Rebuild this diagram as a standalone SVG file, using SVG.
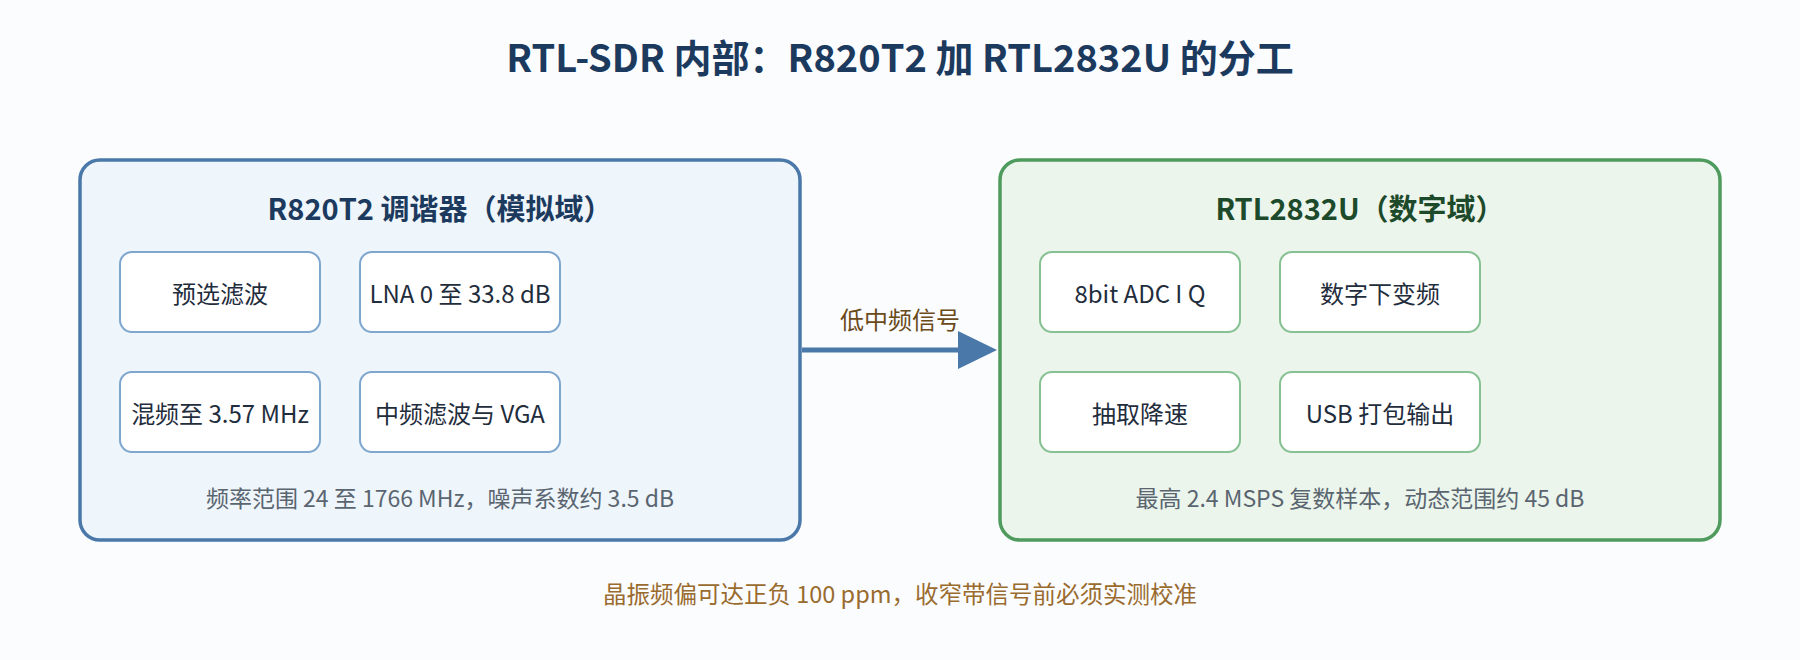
<svg xmlns="http://www.w3.org/2000/svg" width="1800" height="660" viewBox="0 0 1800 660">
<style>
text{font-family:"Noto Sans CJK SC","Noto Sans",sans-serif;text-anchor:middle;dominant-baseline:central}
.title{font-size:38px;font-weight:bold;fill:#1c3a5e}
.ht{font-size:29px;font-weight:bold}
.item{font-size:24px;fill:#1f2d3d}
.note{font-size:23px;fill:#5a6570}
.ib{fill:#fff;stroke-width:2}
</style>
<rect width="1800" height="660" fill="#fafcfe"/>
<text class="title" x="900" y="55">RTL-SDR 内部：R820T2 加 RTL2832U 的分工</text>
<g id="tuner">
<rect x="80" y="160" width="720" height="380" rx="20" fill="#eef5fb" stroke="#4a78a8" stroke-width="3.5"/>
<text class="ht" x="440" y="207" fill="#1c3a5e">R820T2 调谐器（模拟域）</text>
<g id="t1"><rect class="ib" x="120" y="252" width="200" height="80" rx="12" stroke="#7fa6cc"/><text class="item" x="220" y="292">预选滤波</text></g>
<g id="t2"><rect class="ib" x="360" y="252" width="200" height="80" rx="12" stroke="#7fa6cc"/><text class="item" x="460" y="292">LNA 0 至 33.8 dB</text></g>
<g id="t3"><rect class="ib" x="120" y="372" width="200" height="80" rx="12" stroke="#7fa6cc"/><text class="item" x="220" y="412">混频至 3.57 MHz</text></g>
<g id="t4"><rect class="ib" x="360" y="372" width="200" height="80" rx="12" stroke="#7fa6cc"/><text class="item" x="460" y="412">中频滤波与 VGA</text></g>
<text class="note" x="440" y="497">频率范围 24 至 1766 MHz，噪声系数约 3.5 dB</text>
</g>
<g id="demod">
<rect x="1000" y="160" width="720" height="380" rx="20" fill="#ebf5ec" stroke="#4f9a5d" stroke-width="3.5"/>
<text class="ht" x="1360" y="207" fill="#1d4a2a">RTL2832U（数字域）</text>
<g id="d1"><rect class="ib" x="1040" y="252" width="200" height="80" rx="12" stroke="#86c093"/><text class="item" x="1140" y="292">8bit ADC I Q</text></g>
<g id="d2"><rect class="ib" x="1280" y="252" width="200" height="80" rx="12" stroke="#86c093"/><text class="item" x="1380" y="292">数字下变频</text></g>
<g id="d3"><rect class="ib" x="1040" y="372" width="200" height="80" rx="12" stroke="#86c093"/><text class="item" x="1140" y="412">抽取降速</text></g>
<g id="d4"><rect class="ib" x="1280" y="372" width="200" height="80" rx="12" stroke="#86c093"/><text class="item" x="1380" y="412">USB 打包输出</text></g>
<text class="note" x="1360" y="497">最高 2.4 MSPS 复数样本，动态范围约 45 dB</text>
</g>
<g id="connectors">
<line x1="802" y1="350" x2="960" y2="350" stroke="#4a78a8" stroke-width="5"/>
<path d="M958,331 L997,350 L958,369 Z" fill="#4a78a8"/>
<text x="900" y="318" style="font-size:24px;fill:#6b4a1a">低中频信号</text>
</g>
<text x="900" y="593" style="font-size:23.5px;fill:#9a6b2e">晶振频偏可达正负 100 ppm，收窄带信号前必须实测校准</text>
</svg>
